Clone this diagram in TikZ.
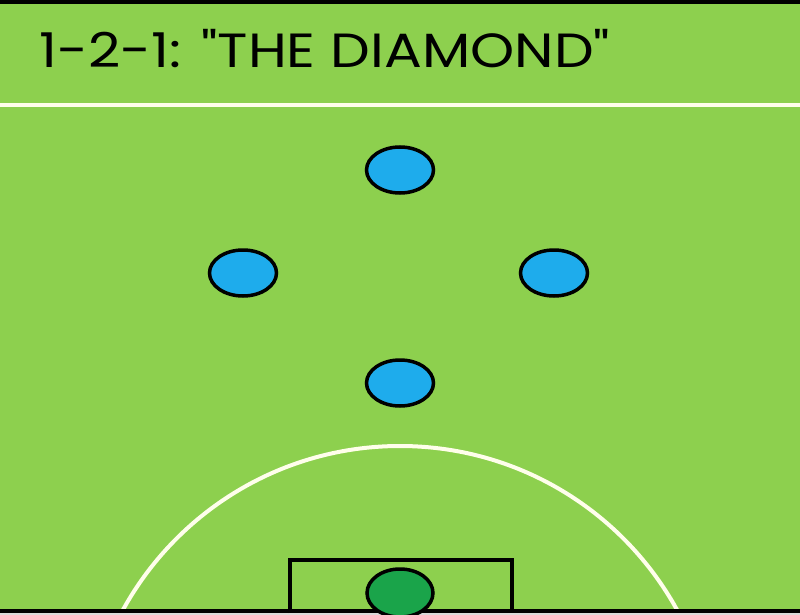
\documentclass[tikz,border=0pt]{standalone}
\usepackage{fontspec}
\newfontfamily\titlefont{Poppins}
\usetikzlibrary{shapes.geometric}
\definecolor{pitch}{RGB}{141,208,78}
\definecolor{playerblue}{RGB}{30,172,236}
\definecolor{keepergreen}{RGB}{26,164,74}
\tikzset{
  player/.style={ellipse, draw=black, line width=3.5pt, fill=playerblue, minimum width=67pt, minimum height=46pt, inner sep=0pt},
  keeper/.style={ellipse, draw=black, line width=3.5pt, fill=keepergreen, minimum width=66pt, minimum height=48pt, inner sep=0pt},
  whiteline/.style={draw=white!92!yellow, line width=4pt},
  blackline/.style={draw=black, line width=4pt}
}
\begin{document}
\begin{tikzpicture}[x=1pt,y=-1pt]
\useasboundingbox (0,0) rectangle (800,615);
\fill[pitch] (0,0) rectangle (800,615);
\fill[black] (0,0) rectangle (800,4);
\fill[black!15] (0,613) rectangle (800,615);
% title
\node[anchor=base west, inner sep=0pt] (title) at (39,68) {\scalebox{1.17}[1]{\titlefont\fontsize{48}{50}\selectfont 1-2-1: "THE DIAMOND"}};
% halfway line
\draw[whiteline] (0,105) -- (800,105);
% penalty arc
\begin{scope}
\clip (0,0) rectangle (800,611);
\draw[whiteline] (400,762) circle[radius=316];
\end{scope}
% goal box
\draw[blackline] (290,613) -- (290,560) -- (512,560) -- (512,613);
\draw[blackline] (0,611) -- (800,611);
% players
\node[player] (top) at (400,170) {};
\node[player] (left) at (243,273) {};
\node[player] (right) at (554,273) {};
\node[player] (bottom) at (400,383) {};
\node[keeper] (gk) at (400,593) {};
\end{tikzpicture}
\end{document}
